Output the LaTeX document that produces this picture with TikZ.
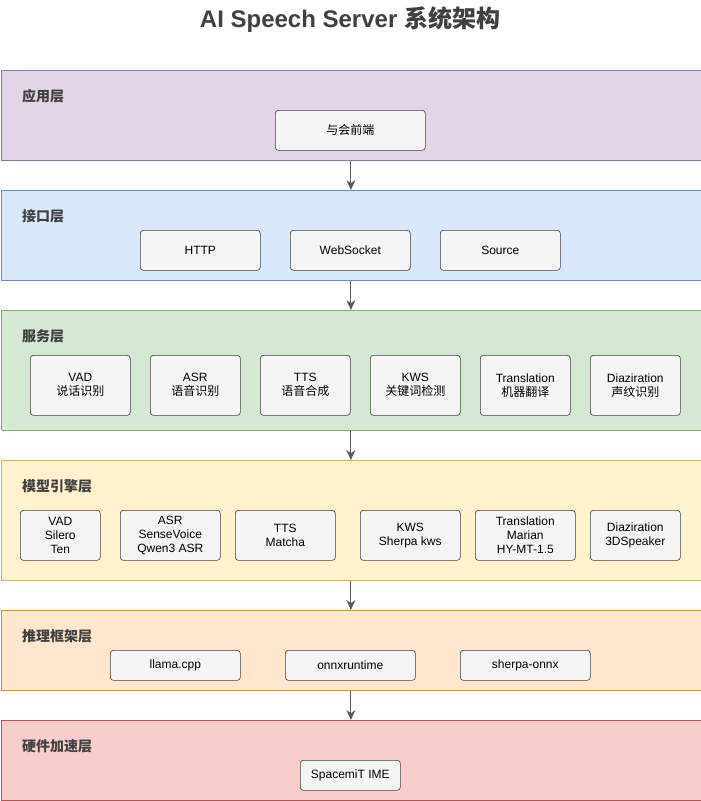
\documentclass[tikz,border=0pt]{standalone}
\usepackage{fontspec}
\setmainfont{Liberation Sans}
\newfontfamily\cjk{Noto Sans CJK SC}
\usetikzlibrary{arrows.meta}
\begin{document}
\begin{tikzpicture}[x=1pt,y=-1pt,
  layer/.style={draw=#1,line width=0.8pt,anchor=north west,inner sep=0pt},
  box/.style={draw=black!75,fill=black!4,rounded corners=3pt,line width=0.6pt,align=center,font=\fontsize{12}{14}\selectfont,inner sep=0pt,anchor=north west},
  ltitle/.style={font=\cjk\bfseries\fontsize{14}{16}\selectfont,text=black!75,anchor=west,inner sep=0pt},
  arr/.style={-{Stealth[length=10pt,width=9pt]},draw=black!65,line width=1pt}]
\useasboundingbox (0,0) rectangle (701,801);
\node[font=\bfseries\fontsize{24}{26}\selectfont,text=black!75] (title) at (350,20) {AI Speech Server {\cjk 系统架构}};
\definecolor{f1}{HTML}{E1D5E7}\definecolor{s1}{HTML}{9673A6}
\definecolor{f2}{HTML}{DAE8FC}\definecolor{s2}{HTML}{6C8EBF}
\definecolor{f3}{HTML}{D5E8D4}\definecolor{s3}{HTML}{82B366}
\definecolor{f4}{HTML}{FFF2CC}\definecolor{s4}{HTML}{D6B656}
\definecolor{f5}{HTML}{FFE6CC}\definecolor{s5}{HTML}{D79B00}
\definecolor{f6}{HTML}{F8CECC}\definecolor{s6}{HTML}{B85450}
\node[layer=s1,fill=f1,minimum width=700,minimum height=90] (L1) at (0.5,70) {};
\node[layer=s2,fill=f2,minimum width=700,minimum height=90] (L2) at (0.5,190) {};
\node[layer=s3,fill=f3,minimum width=700,minimum height=120] (L3) at (0.5,310) {};
\node[layer=s4,fill=f4,minimum width=700,minimum height=120] (L4) at (0.5,460) {};
\node[layer=s5,fill=f5,minimum width=700,minimum height=80] (L5) at (0.5,610) {};
\node[layer=s6,fill=f6,minimum width=700,minimum height=80] (L6) at (0.5,720) {};
\node[ltitle] (t1) at (22,96) {应用层};
\node[ltitle] (t2) at (22,216) {接口层};
\node[ltitle] (t3) at (22,336) {服务层};
\node[ltitle] (t4) at (22,486) {模型引擎层};
\node[ltitle] (t5) at (22,636) {推理框架层};
\node[ltitle] (t6) at (22,746) {硬件加速层};
\foreach \a/\b in {L1/L2,L2/L3,L3/L4,L4/L5,L5/L6}{\draw[arr] (\a.south) -- (\b.north);}
% layer 1
\node[box,minimum width=150,minimum height=40] (app) at (275,110) {\cjk 与会前端};
% layer 2
\node[box,minimum width=120,minimum height=40] (http) at (140,230) {HTTP};
\node[box,minimum width=120,minimum height=40] (ws) at (290,230) {WebSocket};
\node[box,minimum width=120,minimum height=40] (src) at (440,230) {Source};
% layer 3
\node[box,minimum width=100,minimum height=60] (s1) at (30,355) {VAD\\{\cjk 说话识别}};
\node[box,minimum width=90,minimum height=60] (s2) at (150,355) {ASR\\{\cjk 语音识别}};
\node[box,minimum width=90,minimum height=60] (s3) at (260,355) {TTS\\{\cjk 语音合成}};
\node[box,minimum width=90,minimum height=60] (s4) at (370,355) {KWS\\{\cjk 关键词检测}};
\node[box,minimum width=90,minimum height=60] (s5) at (480,355) {Translation\\{\cjk 机器翻译}};
\node[box,minimum width=90,minimum height=60] (s6) at (590,355) {Diaziration\\{\cjk 声纹识别}};
% layer 4
\node[box,minimum width=80,minimum height=50] (m1) at (20,510) {VAD\\Silero\\Ten};
\node[box,minimum width=100,minimum height=50] (m2) at (120,510) {ASR\\SenseVoice\\Qwen3 ASR};
\node[box,minimum width=100,minimum height=50] (m3) at (235,510) {TTS\\Matcha};
\node[box,minimum width=100,minimum height=50] (m4) at (360,510) {KWS\\Sherpa kws};
\node[box,minimum width=100,minimum height=50] (m5) at (475,510) {Translation\\Marian\\HY-MT-1.5};
\node[box,minimum width=90,minimum height=50] (m6) at (590,510) {Diaziration\\3DSpeaker};
% layer 5
\node[box,minimum width=130,minimum height=30] (i1) at (110,650) {llama.cpp};
\node[box,minimum width=130,minimum height=30] (i2) at (285,650) {onnxruntime};
\node[box,minimum width=130,minimum height=30] (i3) at (460,650) {sherpa-onnx};
% layer 6
\node[box,minimum width=100,minimum height=30] (h1) at (300,760) {SpacemiT IME};
\end{tikzpicture}
\end{document}
